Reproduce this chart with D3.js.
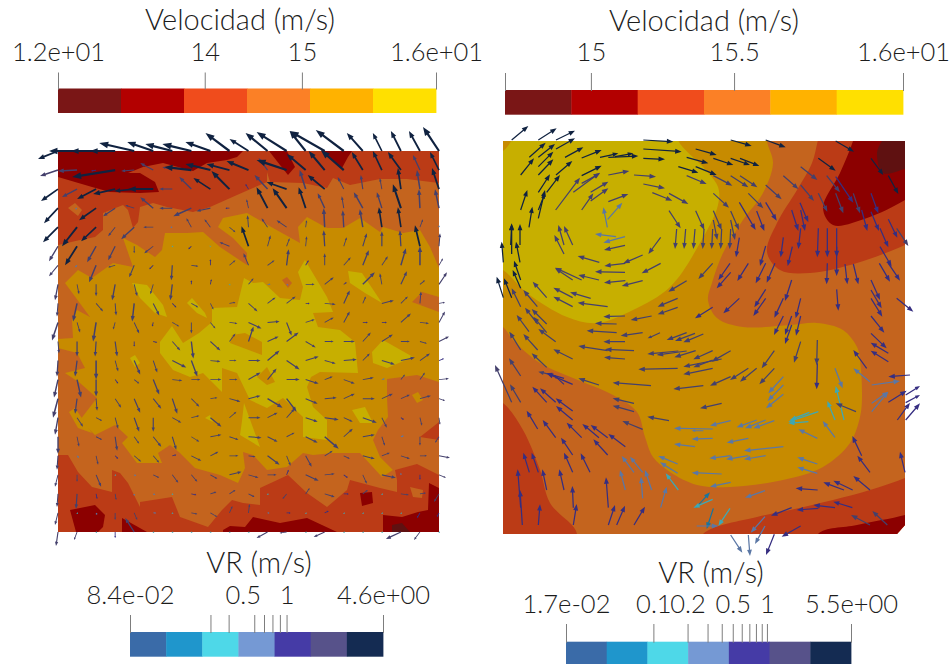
<!DOCTYPE html>
<html><head><meta charset="utf-8">
<style>html,body{margin:0;padding:0;background:#fff;overflow:hidden}svg{display:block}text{font-family:Lato,"Open Sans",sans-serif;font-weight:300;fill:#1c1c1c}</style>
<script src="https://cdn.jsdelivr.net/npm/d3@7"></script>
</head><body>
<script>
// ---- colour tables and colour bars
const velocityColors=["#7a1616","#b30000","#f04c1c","#fb8026","#ffb200","#ffe000"];
const vrColors=["#3a6ba8","#1f96cc","#4ed8e8","#7599d4","#453ba6","#57528a","#142b52"];
const surfaceShade=0.78;
const velTitle="Velocidad (m/s)", vrTitle="VR (m/s)";
const velDomainL=[12.49,16.38], velTicksL=[12.49,14,15,16.38], velLabelsL=["1.2e+01","14","15","1.6e+01"];
const velDomainR=[14.70,16.09], velTicksR=[14.70,15,15.5,16.09], velLabelsR=["","15","15.5","1.6e+01"];
const vrDomainL=[0.084,4.6], vrTicksL=[0.084,0.3,0.4,0.6,0.7,0.8,0.9,1,4.6], vrLabelValsL=[0.084,0.5,1,4.6], vrLabelsL=["8.4e-02","0.5","1","4.6e+00"];
const vrDomainR=[0.017,5.5], vrTicksR=[0.017,0.1,0.2,0.3,0.4,0.5,0.6,0.7,0.8,0.9,1,5.5], vrLabelValsR=[0.017,0.1,0.2,0.5,1,5.5], vrLabelsR=["1.7e-02","0.1","0.2","0.5","1","5.5e+00"];

// ---- left panel: vector field on a regular 21 x 21 grid, [dx,dy] for each node
const leftVectors=[
[[-20,8],[-28,0],[-25,0],[-25,0],[-35,-8],[-26,-9],[-27,-7],[-29,-7],[-25,-9],[-24,-18],[-19,-12],[-22,-18],[-30,-19],[-16,-20],[-35,-20],[-28,-21],[-16,-18],[-9,-18],[-10,-20],[-11,-20],[-16,-24]],
[[-18,6],[-19,1],[-5,1],[-43,7],[-13,1],[-13,-7],[-10,-3],[-27,-3],[-25,-6],[-23,-6],[-22,-9],[-9,-12],[-30,-10],[-19,-16],[-16,-19],[-23,-20],[-11,-18],[-9,-19],[-13,-18],[-7,-15],[-9,-18]],
[[-17,12],[-15,8],[-19,10],[-22,5],[-20,2],[-25,0],[-13,0],[-12,-12],[-17,-11],[-18,-18],[-3,-5],[-13,-14],[-20,-7],[-6,-19],[-17,-14],[-6,-12],[-2,-14],[-2,-11],[-3,-21],[-3,-19],[-7,-21]],
[[-14,15],[-2,1],[-17,12],[-12,8],[-9,-3],[-13,-11],[-13,0],[-18,8],[-14,3],[-4,0],[-2,-9],[-11,-21],[-14,-20],[-7,-21],[-7,-15],[-2,-12],[-9,-16],[-5,-16],[-8,-24],[-1,-19],[-4,-19]],
[[-15,15],[-15,19],[-15,14],[-7,9],[-13,12],[-10,0],[-2,0],[-5,-9],[-6,-8],[6,5],[-1,-12],[-6,-9],[-10,-7],[1,-7],[-1,-19],[-1,-17],[-3,-18],[-3,-20],[-3,-20],[3,-8],[0,-2]],
[[-9,15],[-12,19],[-9,16],[-7,14],[0,7],[-9,7],[1,1],[-3,3],[0,1],[-10,-4],[-7,-20],[3,-11],[3,-8],[1,-10],[-1,-16],[3,-9],[4,-13],[0,-15],[-1,-16],[-5,-21],[1,-13]],
[[-9,11],[-2,2],[-7,17],[-7,2],[-5,12],[-4,4],[-1,15],[7,1],[0,-6],[6,-5],[-5,-12],[7,-5],[2,-16],[3,-5],[0,-12],[7,-8],[6,-15],[6,-9],[5,-17],[0,-19],[4,-7]],
[[-3,16],[2,10],[0,12],[-3,16],[3,12],[-3,10],[-2,16],[0,-4],[1,-5],[1,1],[5,-6],[3,0],[2,1],[9,0],[9,-7],[3,-2],[12,-12],[-2,-11],[6,-13],[5,-4],[8,-12]],
[[-1,13],[-4,18],[7,8],[1,12],[-2,18],[6,12],[4,4],[7,4],[3,6],[6,-1],[9,8],[8,-6],[9,-7],[4,0],[11,1],[6,-13],[3,-7],[12,-3],[7,-7],[1,-12],[6,-1]],
[[-6,18],[3,10],[-3,19],[-2,7],[5,11],[-1,4],[7,4],[0,11],[5,6],[8,1],[13,6],[12,-1],[5,13],[9,-3],[9,-5],[6,-11],[5,0],[5,0],[10,-9],[9,1],[6,-11]],
[[1,12],[0,15],[-1,15],[2,15],[0,5],[4,1],[8,9],[2,17],[10,9],[6,-8],[5,-15],[11,-5],[12,-9],[10,6],[9,0],[11,0],[8,-9],[11,-7],[9,0],[7,2],[10,-5]],
[[-1,16],[-2,16],[0,19],[3,11],[6,14],[4,12],[14,7],[6,16],[10,1],[7,0],[12,0],[12,-10],[13,9],[13,-4],[11,3],[13,-1],[7,-7],[13,4],[14,-3],[10,-7],[5,-2]],
[[-4,18],[4,18],[0,17],[3,4],[5,4],[6,15],[10,1],[9,0],[11,0],[8,0],[12,-7],[9,-11],[13,0],[13,4],[8,-3],[11,4],[11,-2],[3,-1],[4,-5],[5,-7],[10,-1]],
[[-5,19],[-2,15],[1,12],[6,9],[6,14],[8,10],[5,15],[8,8],[7,-1],[11,3],[12,-3],[15,9],[10,13],[12,5],[12,-1],[11,-5],[12,0],[11,-5],[9,-4],[11,-3],[6,2]],
[[-3,17],[6,9],[6,3],[3,11],[5,14],[0,14],[9,5],[8,-2],[11,9],[7,-6],[12,0],[10,-5],[8,-9],[12,4],[14,2],[9,4],[14,5],[5,10],[3,2],[2,8],[1,7]],
[[0,17],[2,10],[6,3],[2,14],[5,7],[8,10],[4,13],[8,5],[11,-2],[9,3],[13,1],[10,5],[8,-4],[12,6],[14,12],[9,-8],[12,-2],[3,9],[3,-1],[0,9],[-4,6]],
[[-1,14],[2,2],[2,9],[3,3],[7,6],[6,7],[4,-1],[10,5],[8,-4],[9,0],[7,1],[12,9],[4,10],[6,11],[8,-5],[6,3],[12,3],[8,-3],[9,3],[7,0],[11,2]],
[[-3,12],[0,7],[5,12],[1,1],[2,1],[6,3],[6,8],[6,7],[7,4],[12,-3],[10,3],[9,0],[2,-5],[13,6],[10,-1],[4,3],[4,9],[14,3],[0,-2],[0,5],[7,3]],
[[-1,13],[-1,15],[1,5],[1,6],[0,2],[2,1],[1,1],[5,1],[6,-2],[6,-4],[6,3],[1,1],[-4,5],[4,-6],[10,3],[5,0],[5,-4],[1,1],[8,1],[6,-1],[-5,8]],
[[-3,12],[1,1],[1,2],[0,7],[3,7],[3,0],[1,1],[6,1],[7,4],[3,-7],[1,-9],[2,0],[4,0],[1,1],[4,-2],[1,1],[1,1],[1,1],[1,1],[-3,5],[-2,4]],
[[-2,14],[-3,8],[1,1],[0,6],[-9,-14],[1,1],[1,1],[1,1],[1,1],[1,1],[1,1],[-11,6],[-7,1],[1,1],[-11,5],[1,1],[1,1],[1,1],[-15,7],[-6,8],[1,1]]
];
const lengthStops=[0,6,20,40], vrStops=[0.084,1.46,2.59,4.6];

// ---- left panel: filled contour bands, panel units 0..381, [level, points]
const leftBase=2;
const leftBands=[
[3,[[0,94],[22,89],[37,86],[45,79],[45,62],[65,54],[70,59],[75,77],[80,71],[82,56],[95,52],[109,56],[135,61],[152,56],[179,44],[195,37],[209,31],[209,21],[212,31],[245,32],[269,37],[275,27],[292,34],[322,28],[349,28],[381,32],[381,324],[359,313],[337,319],[339,329],[339,341],[322,337],[292,329],[289,339],[269,356],[249,342],[230,324],[215,331],[202,337],[202,354],[185,352],[174,349],[164,359],[150,376],[122,366],[114,346],[82,351],[82,356],[70,332],[62,322],[54,319],[54,341],[34,336],[20,321],[10,304],[0,304]]],
[3,[[10,57],[17,52],[24,59],[20,65]]],
[3,[[352,336],[365,339],[364,347],[355,346]]],
[2,[[362,286],[381,271],[381,289]]],
[1,[[0,0],[185,0],[179,6],[169,9],[149,12],[135,20],[105,12],[85,16],[70,22],[82,22],[97,31],[101,41],[82,42],[52,41],[34,36],[0,26]]],
[1,[[211,0],[222,14],[230,24],[237,16],[229,0]]],
[1,[[264,0],[284,17],[290,6],[294,0]]],
[1,[[12,359],[37,354],[47,364],[45,376],[40,381],[18,381]]],
[1,[[64,367],[89,381],[64,381]]],
[1,[[165,379],[172,375],[187,376],[195,366],[222,372],[249,367],[279,381],[165,381]]],
[1,[[302,342],[314,341],[315,352],[304,355]]],
[1,[[325,364],[344,366],[360,361],[370,359],[371,332],[381,337],[381,381],[325,381]]],
[0,[[334,374],[344,372],[352,381],[334,381]]],
[4,[[7,132],[20,119],[34,127],[55,112],[75,116],[65,87],[79,94],[97,106],[104,99],[107,82],[129,82],[145,81],[162,96],[189,114],[189,102],[175,87],[160,76],[165,67],[189,62],[215,77],[242,92],[240,76],[249,66],[269,77],[285,77],[302,67],[322,81],[325,76],[345,82],[362,79],[372,96],[381,117],[381,146],[364,141],[354,151],[381,161],[381,231],[359,224],[329,228],[329,247],[330,266],[320,279],[315,289],[322,306],[335,319],[324,326],[302,302],[275,302],[255,304],[245,302],[229,316],[209,319],[195,304],[185,301],[187,317],[180,332],[162,324],[137,317],[122,302],[112,294],[100,302],[104,312],[79,312],[64,292],[70,286],[57,274],[37,284],[22,269],[39,247],[22,232],[7,222],[27,217],[19,202],[0,197],[0,188],[15,187],[14,169],[19,159],[32,166]]],
[4,[[11,261],[17,257],[34,282],[20,277]]],
[4,[[354,244],[360,241],[365,249],[359,252]]],
[3,[[224,129],[229,126],[234,132],[230,137]]],
[5,[[102,191],[114,175],[125,192],[141,182],[154,171],[154,157],[179,156],[186,127],[195,132],[205,131],[222,147],[242,149],[245,136],[240,121],[247,109],[269,146],[275,161],[255,162],[260,176],[282,179],[297,191],[300,222],[262,221],[253,226],[249,236],[255,256],[269,269],[269,289],[245,286],[245,266],[225,247],[209,257],[192,249],[179,222],[164,217],[164,241],[145,222],[139,224],[132,226],[115,219],[102,202]]],
[4,[[174,184],[187,182],[204,191],[204,204],[172,192]]],
[4,[[199,226],[209,216],[217,231],[209,234]]],
[5,[[74,132],[89,134],[105,154],[109,166],[97,162],[82,147]]],
[5,[[129,152],[134,147],[147,162],[149,167],[139,162]]],
[5,[[290,120],[304,122],[324,152],[307,142],[292,132]]],
[5,[[314,201],[325,189],[355,206],[329,217],[315,212]]],
[5,[[186,252],[202,296],[182,284],[184,270]]],
[5,[[294,259],[307,256],[315,272],[302,272]]],
[5,[[147,267],[152,264],[155,271]]],
[5,[[72,207],[77,204],[82,212],[77,216]]]
];

// ---- right panel: smooth contour bands, panel units 402 x 393
const rightOutline=[[0,0],[402,0],[402,384],[394,393],[0,393]];
const rightBase=3;
const rightBands=[
[4,[[264,-20],[264,0],[270,22],[260,52],[240,79],[220,112],[209,142],[205,159],[214,177],[240,186],[287,184],[314,182],[340,189],[354,206],[357,219],[359,256],[357,276],[347,302],[320,326],[280,339],[227,346],[194,344],[167,331],[150,316],[142,296],[134,271],[110,254],[70,237],[37,222],[10,199],[0,186],[-30,170],[-30,-20]]],
[5,[[175,-20],[175,-1],[200,26],[215,46],[215,64],[197,102],[167,146],[130,169],[94,182],[64,176],[24,152],[0,129],[-25,118],[-25,20],[0,10],[9,-1],[20,-20]]],
[2,[[320,-20],[315,-1],[309,22],[294,49],[274,82],[264,111],[277,129],[307,132],[354,122],[402,104],[430,90],[430,-20]]],
[1,[[355,-20],[350,0],[337,32],[320,67],[330,84],[364,77],[402,59],[430,40],[430,-20]]],
[0,[[395,-20],[379,0],[374,12],[380,32],[402,28],[430,20],[430,-20]]],
[2,[[-25,250],[0,262],[20,289],[37,329],[47,362],[74,393],[60,420],[-25,420]]],
[2,[[190,420],[200,393],[254,376],[287,369],[330,359],[367,349],[402,337],[430,325],[430,420]]],
[1,[[310,420],[315,393],[354,384],[402,374],[430,365],[430,420]]]
];

// ---- right panel arrows: field coordinates [tailX,tailY,headX,headY,VR]
const rightArrowsUpper=[
[65,30,115,-12,3.5],[145,30,200,-5,3.5],[198,30,255,2,3.5],[118,82,167,38,3.5],[145,82,195,42,3.5],[198,57,255,25,3.5],[225,82,280,52,3.5],[275,84,335,60,3.5],
[145,110,190,65,3.5],[92,135,132,85,3.5],[145,135,190,88,3.5],[198,135,247,93,3.5],[275,137,335,107,3.5],[145,187,180,133,3.5],[170,187,210,135,3.5],[197,240,270,143,1.5],[250,187,330,128,1.5],
[330,82,385,70,3.5],[355,82,445,78,3.5],[375,80,430,70,3.5],[460,30,550,35,3.5],[460,57,575,65,3.5],[460,85,525,88,3.5],[355,135,418,123,1.5],[432,135,498,140,1.5],[460,162,525,175,1.5],[487,188,547,212,1.5],[537,190,595,222,1.5],
[565,110,625,128,3.5],[590,137,650,162,1.5],[590,82,655,100,3.5],[617,57,680,75,3.5],[617,110,680,135,3.5],[670,85,730,105,3.5],[722,85,780,105,3.5],[750,85,808,108,3.5],[722,30,785,48,3.5],[827,30,887,52,3.5],
[670,137,727,167,1.5],[722,137,775,172,1.5],[750,137,802,172,1.5],[670,190,717,233,1.5],[880,137,925,177,1.5],[827,165,875,208,1.5],[775,190,820,235,1.5],[932,110,982,150,1.5],[985,85,1037,122,3.5],[1037,33,1092,65,3.5],[1143,85,1180,135,3.5],[1195,137,1225,192,3.5],
[932,165,972,213,1.5],[985,190,1012,245,1.5],[1010,137,1050,187,1.5],[1037,140,1090,218,0.8],[1037,190,1060,250,1.5],[1090,190,1110,250,1.5],[1115,240,1132,303,0.8],[1143,190,1165,250,0.8],[1143,245,1167,303,0.8],[1195,268,1222,323,0.8],[1220,295,1255,348,1.5],
[930,218,955,277,0.8],[905,240,925,303,0.8],[932,240,945,303,0.8],[748,217,797,300,0.8],[827,217,860,272,0.8],[800,243,823,303,0.8],
[560,297,555,357,1.5],[587,297,582,357,1.5],[615,297,610,357,1.5],[642,297,638,357,1.5],[668,297,665,357,1.5],[695,297,692,357,1.5],[722,297,719,357,1.5],[537,242,572,295,1.5],[617,242,643,300,1.5],[670,242,695,300,1.5],[722,243,747,300,1.5],[670,270,682,330,1.5],[722,270,735,330,1.5],
[748,323,738,382,0.8],[827,348,810,408,0.8],[880,322,872,382,0.8],[907,350,893,408,0.8],[932,295,925,357,0.8],[985,295,982,382,0.8],[1012,295,1012,382,0.8],[1040,295,1040,382,0.8],[1040,350,1040,438,0.8],[1012,400,1010,463,0.8],[1065,402,1072,463,0.8],[1090,402,1105,463,0.8],[1040,478,1045,542,0.8],
[1170,350,1205,410,0.8],[1170,295,1195,352,0.8],[1168,400,1200,455,0.8],[1195,400,1230,452,0.8],[1143,450,1170,510,0.8],[1143,480,1175,535,0.8],[1143,505,1177,560,0.8],[1220,505,1270,545,0.8],[1143,558,1183,608,0.8],[1143,610,1190,655,0.8],
[905,450,885,513,0.8],[932,505,917,565,0.8],[880,558,852,615,0.8],[905,558,885,615,0.8],[932,558,918,617,0.8],[905,585,885,642,0.8],
[855,400,830,458,0.8],[827,478,793,532,0.8],[827,505,790,558,0.8],[880,505,853,563,0.8],[775,400,742,453,0.8],[827,400,797,460,0.8],[748,505,700,550,0.8],[720,400,685,450,0.8],[722,427,680,475,0.8],[668,400,625,447,1.5],[668,532,615,565,0.8],
[590,452,535,485,1.5],[563,505,503,530,1.5],[563,532,503,553,1.5],[512,322,475,372,1.5],[512,400,455,430,1.5],[458,452,395,468,1.5],[406,452,342,458,1.5],[405,427,315,425,1.5],[458,375,400,400,1.5],[406,400,343,408,1.5],[405,346,342,360,1.5],[405,320,340,338,0.35],[378,320,315,312,0.35],
[328,397,263,378,1.5],[327,450,265,435,1.5],[302,505,240,487,1.5],[275,450,195,413,1.5],[248,450,195,415,1.5],[248,503,190,473,1.5],[248,530,190,500,1.5],[353,530,263,518,1.5],[405,558,340,560,1.5],[485,558,422,570,1.5],
[380,582,315,580,1.5],[380,608,290,602,1.5],[458,608,392,617,1.5],[510,608,473,625,1.5],[590,608,530,630,1.5],[615,610,555,633,1.5],[640,612,580,637,1.5],[405,635,340,635,1.5],
[352,292,340,232,0.35],[353,268,397,218,0.35],[275,240,310,190,1.5],[302,213,355,175,1.5],[302,187,355,155,1.5],[275,160,330,130,1.5],[355,215,415,192,1.5],
[92,240,112,180,3.5],[117,292,127,230,3.5],[145,265,165,180,3.5],[145,240,165,190,3.5],[65,372,65,280,3.5],[90,345,90,282,3.5],[62,345,65,282,3.5],[40,397,35,335,3.5],[90,397,78,335,3.5],
[92,450,72,392,3.5],[92,475,68,420,3.5],[65,503,42,445,3.5],[40,503,20,440,3.5],[92,530,65,475,1.5],[142,530,100,480,1.5],[170,503,128,455,1.5],[222,345,205,285,1.5],[248,345,222,288,1.5],[222,372,193,315,1.5],
[143,582,105,533,1.5],[170,582,125,537,1.5],[197,635,145,597,1.5],[170,608,130,560,1.5],[117,605,80,555,1.5],[143,660,100,612,1.5],[92,660,58,605,1.5]
];
const lowerFrameOffset=630;
const rightArrowsLower=[
[353,32,265,18,1.5],[432,32,345,28,1.5],[405,57,342,52,1.5],[248,57,190,28,1.5],[327,135,265,115,1.5],
[565,33,472,42,1.5],[590,33,500,45,1.5],[617,32,553,52,1.5],[668,32,610,58,1.5],[722,32,665,65,1.5],[695,57,580,80,1.5],[668,60,610,82,1.5],[668,85,580,103,1.5],[563,85,445,88,1.5],
[483,137,368,128,1.5],[432,190,368,175,1.5],[432,215,368,197,1.5],[537,242,472,230,1.5],[458,268,397,243,1.5],[640,137,550,147,1.5],[695,190,630,205,1.5],[722,110,660,137,1.5],[775,85,720,120,1.5],[800,85,750,125,1.5],[853,85,808,133,1.5],[853,32,815,85,1.5],[932,5,912,68,1.5],[982,0,980,75,1.5],[982,70,980,148,0.5],
[880,110,835,160,0.35],[880,135,833,183,0.35],[880,163,828,205,0.35],
[722,242,660,257,0.35],[800,240,740,262,0.35],[827,240,765,265,0.35],[853,242,790,265,0.35],[668,267,552,265,0.35],[640,272,605,272,0.35],[668,295,605,297,0.35],[775,295,710,308,0.35],[880,320,762,332,0.35],[827,347,762,358,0.35],[775,347,708,358,0.35],[722,347,658,355,0.35],
[615,320,552,312,0.35],[563,372,505,348,0.35],[563,400,510,367,0.35],[695,402,605,398,0.35],[722,427,660,440,0.35],[985,215,895,245,0.15],[955,245,895,250,0.15],[958,217,900,240,0.15],
[982,295,925,268,0.35],[1035,292,998,243,0.35],[982,372,922,352,0.35],[982,400,922,382,0.35],
[1035,85,1058,145,0.35],[1062,240,1037,138,0.15],[1035,240,1012,183,0.15],[1098,215,1037,190,1.5],
[1140,125,1090,85,0.35],[1130,85,1090,30,0.8],[1195,65,1142,32,0.8],[1195,40,1142,8,0.8],[1260,105,1195,110,0.8],[1145,135,1230,123,0.35],
[1145,215,1195,155,0.35],[1145,190,1195,155,0.35],[1195,187,1250,152,0.8],[1222,240,1260,188,0.8],[1247,240,1290,190,0.8],[1247,188,1290,165,0.8],[1247,165,1290,138,0.8],
[65,187,15,75,1.5],[92,187,60,133,1.5],[92,108,57,55,1.5],[170,82,125,40,1.5],[170,187,127,140,0.8],[197,187,150,145,0.8],[248,213,197,175,0.8],[248,240,198,198,0.8],[197,108,145,95,1.5],[248,133,170,100,0.8],[222,133,192,105,0.8],[222,115,170,100,0.8],
[143,267,110,212,0.8],[197,293,158,240,0.8],[275,293,230,248,0.8],[327,293,277,252,0.8],[353,293,302,255,0.8],[406,320,355,282,0.8],[353,345,310,298,0.8],[248,345,213,293,0.8],[248,397,222,338,0.8],[300,397,272,340,0.8],
[118,397,100,338,0.8],[145,397,125,338,0.8],[170,450,157,388,0.8],[222,450,208,388,0.8],[92,503,83,388,0.8],[97,555,90,450,0.8],[145,555,150,493,0.8],[250,555,260,492,0.8],[250,503,247,438,0.8],[355,503,348,412,0.8],[355,555,375,495,0.8],[380,555,405,497,0.8],[432,555,465,500,0.8],
[432,397,395,348,0.35],[458,397,420,350,0.35],[458,475,453,410,0.35],[485,450,465,390,0.35],[406,450,390,390,0.35],[512,503,530,440,0.35],[565,450,527,400,0.15],
[618,503,660,457,0.07],[668,478,610,503,0.15],[670,505,650,567,0.07],[720,505,685,558,0.15],[620,558,685,558,0.35],[825,452,765,473,0.35],
[983,450,917,445,0.8],[1088,450,1030,422,0.8],[1062,450,1000,427,0.8],[1140,450,1090,408,0.8],[1140,397,1102,347,0.8],[1115,347,1087,288,0.8],[1245,397,1230,335,0.8],
[1087,503,1030,485,0.8],[1035,503,970,495,0.8],[985,505,920,510,0.8],[905,503,843,527,0.8],[1140,555,1083,525,1.5],[1192,555,1147,513,1.5],[932,558,875,590,0.8],
[825,530,782,578,0.35],[825,558,795,612,0.35],[853,583,828,645,0.8],[722,585,757,638,0.35],[775,585,780,648,0.35]
];

// ---- scales and layout
const svg=d3.select("body").append("svg").attr("width",951).attr("height",664);
const lx=d3.scaleLinear([0,381],[58,439]), ly=d3.scaleLinear([0,381],[151,532]);
const rx=d3.scaleLinear([0,402],[503,905]), ry=d3.scaleLinear([0,393],[141,534]);
const fx=d3.scaleLinear([39,1245],[503,905]), fy=d3.scaleLinear([33,1212],[141,534]);
const shade=c=>{const q=d3.rgb(c);return d3.rgb(q.r*surfaceShade,q.g*surfaceShade,q.b*surfaceShade).formatHex();};

function arrow(x1,y1,x2,y2,cap){
  const dx=x2-x1,dy=y2-y1,len=Math.hypot(dx,dy)||1,ux=dx/len,uy=dy/len,nx=-uy,ny=ux;
  const hl=Math.min(cap.hl,Math.max(1.6,0.3*len)),hw=Math.min(cap.hw,Math.max(1,0.115*len)),sw=Math.min(cap.sw,Math.max(0.42,0.04*len));
  const bx=x2-ux*hl,by=y2-uy*hl,p=d3.path();
  p.moveTo(x1+nx*sw,y1+ny*sw);p.lineTo(bx+nx*sw,by+ny*sw);p.lineTo(bx+nx*hw,by+ny*hw);p.lineTo(x2,y2);
  p.lineTo(bx-nx*hw,by-ny*hw);p.lineTo(bx-nx*sw,by-ny*sw);p.lineTo(x1-nx*sw,y1-ny*sw);p.closePath();
  return p.toString();
}
const leftCap={hl:9,hw:3.4,sw:1.1}, rightCap={hl:6.5,hw:2.5,sw:0.62};
function bar(title,titleX,titleY,colors,scale,x0,x1,y0,y1,tickVals,tickLen,labelVals,labels,labelPad){
  const g=svg.append("g");
  const n=colors.length,w=(x1-x0)/n;
  g.selectAll("rect").data(colors).join("rect")
    .attr("x",(d,i)=>x0+i*w).attr("width",w+0.4).attr("y",y0).attr("height",y1-y0).attr("fill",d=>d);
  const ticks=g.append("g").attr("transform",`translate(0,${y0+1})`)
    .call(d3.axisTop(scale).tickValues(tickVals).tickSize(tickLen+1).tickFormat(""));
  ticks.select(".domain").remove();ticks.selectAll("line").attr("stroke","#7d7d7d");
  const lab=g.append("g").attr("transform",`translate(0,${y0})`)
    .call(d3.axisTop(scale).tickValues(labelVals).tickSize(0).tickPadding(labelPad).tickFormat((d,i)=>labels[i]));
  lab.select(".domain").remove();lab.selectAll("line").remove();
  lab.attr("font-family",null).attr("font-size",null);
  lab.selectAll("text").attr("font-size",25.5).attr("text-anchor","middle");
  g.append("text").attr("x",titleX).attr("y",titleY).attr("text-anchor","middle").attr("font-size",29).text(title);
}

// left field
const line=(sx,sy,curve)=>d3.line().x(d=>sx(d[0])).y(d=>sy(d[1])).curve(curve);
const gl=svg.append("g");
gl.append("rect").attr("x",lx(0)).attr("y",ly(0)).attr("width",lx(381)-lx(0)).attr("height",ly(381)-ly(0)).attr("fill",shade(velocityColors[leftBase]));
gl.selectAll("path.band").data(leftBands).join("path").attr("class","band")
  .attr("d",d=>line(lx,ly,d3.curveLinearClosed)(d[1])).attr("fill",d=>shade(velocityColors[d[0]]));
// right field
const defs=svg.append("defs");
defs.append("clipPath").attr("id","rclip").append("path").attr("d",line(rx,ry,d3.curveLinearClosed)(rightOutline));
const gr=svg.append("g").attr("clip-path","url(#rclip)");
gr.append("rect").attr("x",rx(0)).attr("y",ry(0)).attr("width",402).attr("height",393).attr("fill",shade(velocityColors[rightBase]));
gr.selectAll("path.band").data(rightBands).join("path").attr("class","band")
  .attr("d",d=>line(rx,ry,d3.curveCatmullRomClosed.alpha(0.5))(d[1])).attr("fill",d=>shade(velocityColors[d[0]]));

// arrows
const vrColorL=d3.scaleQuantize([Math.log(vrDomainL[0]),Math.log(vrDomainL[1])],vrColors.map(shade));
const vrColorR=d3.scaleQuantize([Math.log(vrDomainR[0]),Math.log(vrDomainR[1])],vrColors.map(shade));
const vrFromLength=d3.scaleLinear(lengthStops,vrStops);
const leftGrid=d3.scalePoint(d3.range(21),[0,381]);
const leftData=leftVectors.flatMap((row,j)=>row.map((v,i)=>({x:leftGrid(i),y:leftGrid(j),dx:v[0],dy:v[1],vr:vrFromLength(Math.hypot(v[0],v[1]))})));
svg.append("g").selectAll("path").data(leftData).join("path")
  .attr("d",d=>arrow(lx(d.x),ly(d.y),lx(d.x+d.dx),ly(d.y+d.dy),leftCap))
  .attr("fill",d=>vrColorL(Math.log(d.vr)));
const rightData=[...rightArrowsUpper,...rightArrowsLower.map(a=>[a[0],a[1]+lowerFrameOffset,a[2],a[3]+lowerFrameOffset,a[4]])];
svg.append("g").selectAll("path").data(rightData).join("path")
  .attr("d",a=>arrow(fx(a[0]),fy(a[1]),fx(a[2]),fy(a[3]),rightCap))
  .attr("fill",a=>vrColorR(Math.log(a[4])));

// colour bars
bar(velTitle,240,30,velocityColors,d3.scaleLinear(velDomainL,[58,436]),58,436,88.5,113,velTicksL,16,velTicksL,velLabelsL,28);
bar(velTitle,704,31,velocityColors,d3.scaleLinear(velDomainR,[505,903]),505,903,90,114.7,velTicksR,17,velTicksR,velLabelsR,29);
bar(vrTitle,259,573,vrColors,d3.scaleLog(vrDomainL,[130,383]),130,383,632,656.7,vrTicksL,17,vrLabelValsL,vrLabelsL,28);
bar(vrTitle,711,583,vrColors,d3.scaleLog(vrDomainR,[566,851]),566,851,641.7,666,vrTicksR,17.7,vrLabelValsR,vrLabelsR,28.7);
</script>
</body></html>
